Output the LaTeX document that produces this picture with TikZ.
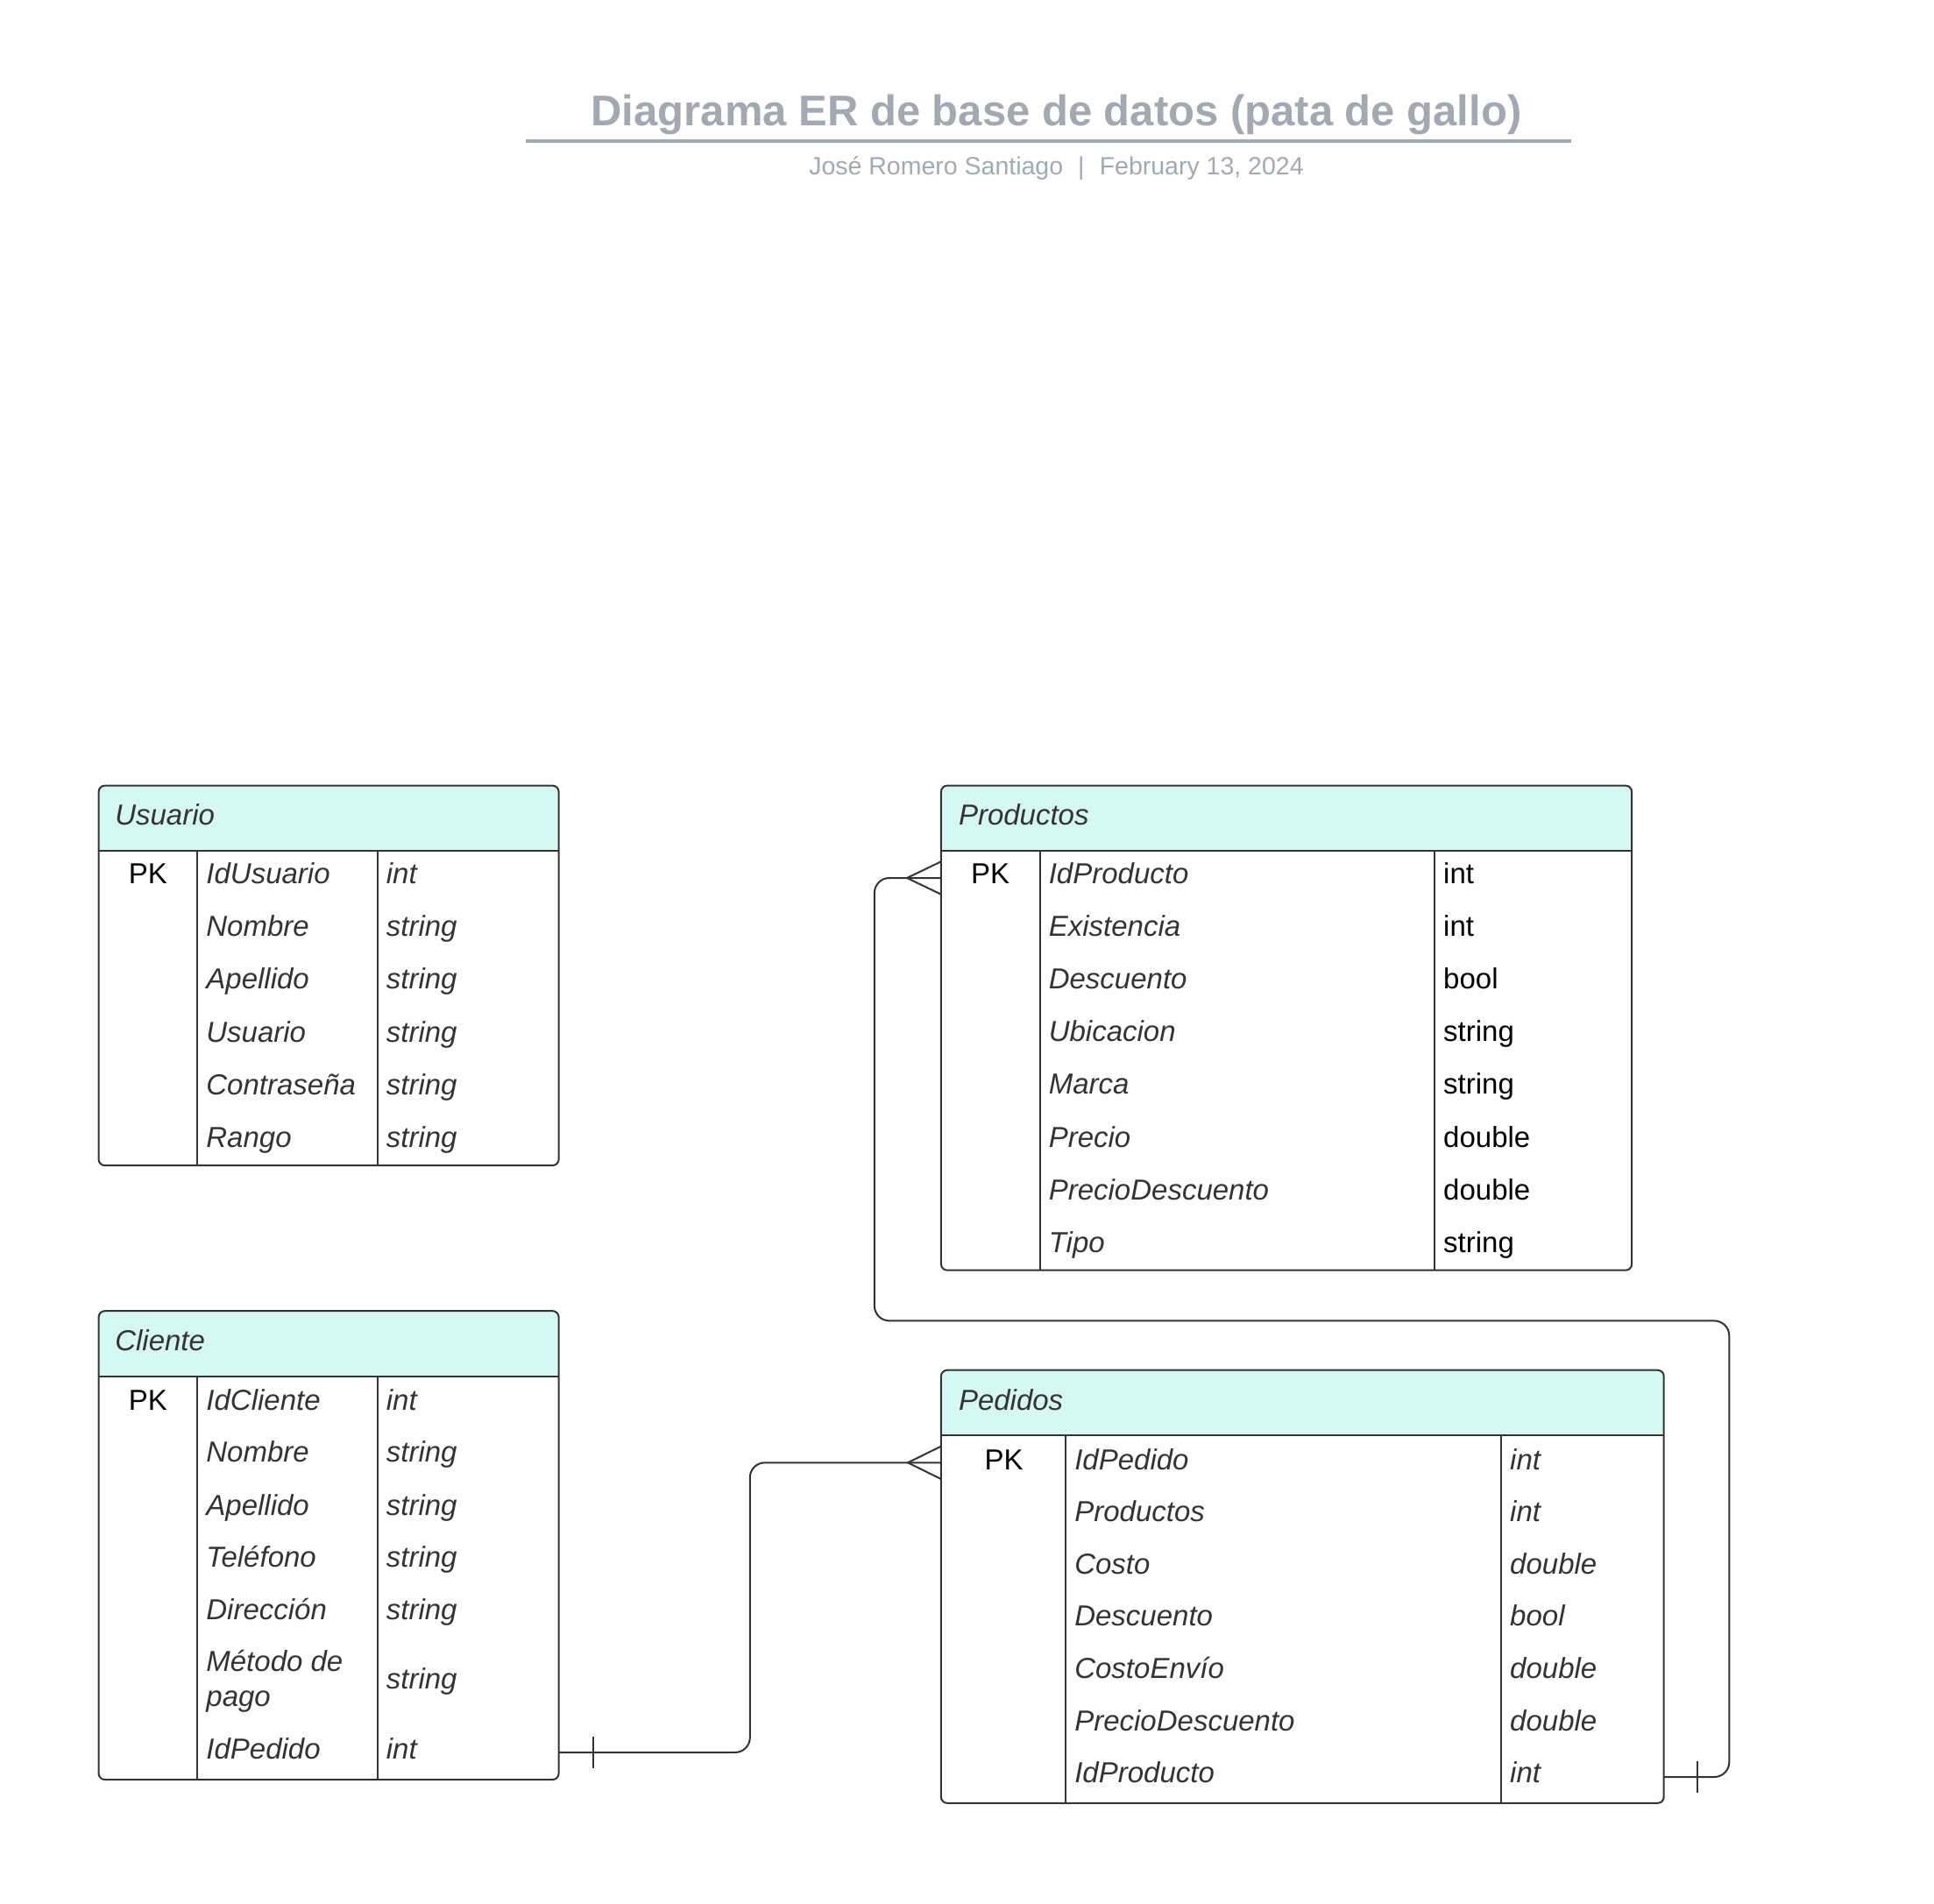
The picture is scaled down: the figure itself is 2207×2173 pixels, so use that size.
\documentclass[tikz,border=0pt]{standalone}
\usepackage{fontspec}
\setmainfont{Liberation Sans}
\definecolor{lineC}{HTML}{333333}
\definecolor{txtC}{HTML}{333333}
\definecolor{hdrC}{HTML}{D6F8F2}
\definecolor{titleC}{HTML}{A3A8B1}
\newcommand\bodyfont{\fontsize{16.5pt}{19pt}\selectfont}
\tikzset{
  tblbox/.style={draw=lineC, line width=1pt, rounded corners=3.5pt, inner sep=0pt, outer sep=0pt, anchor=north west},
  hdrfill/.style={fill=hdrC},
  divline/.style={draw=lineC, line width=1pt},
  hdrtxt/.style={font=\bodyfont\itshape, text=txtC, anchor=base west, inner sep=0pt},
  fld/.style={font=\bodyfont\itshape, text=txtC, anchor=base west, inner sep=0pt},
  typ/.style={font=\bodyfont, text=black, anchor=base west, inner sep=0pt},
  pktxt/.style={font=\bodyfont, text=black, anchor=base, inner sep=0pt},
  conn/.style={draw=lineC, line width=1pt, rounded corners=8.5pt},
  cardmark/.style={draw=lineC, line width=1pt},
}
\begin{document}
\begin{tikzpicture}[x=0.5pt,y=-0.5pt]
\useasboundingbox (0,0) rectangle (2207,2173);

% Title
\node[font=\fontsize{24.5pt}{28pt}\selectfont\bfseries, text=titleC, anchor=base, inner sep=0pt] (title) at (1205.5,143.6) {Diagrama ER de base de datos (pata de gallo)};
\draw[titleC, line width=2pt] (599.6,161.5) -- (1793,161.5);
\node[font=\fontsize{14.25pt}{17pt}\selectfont, text=titleC, anchor=base, inner sep=0pt] (subtitle) at (1205.5,199.5) {José Romero Santiago\hspace{0.6em}|\hspace{0.6em}February 13, 2024};

% ===== Usuario =====
\fill[hdrfill] (112.6,971.2) [rounded corners=3.5pt]-- (112.6,896.6) -- (637.6,896.6) [sharp corners]-- (637.6,971.2) -- cycle;
\node[tblbox, minimum width=262.5pt, minimum height=216.75pt] (usuario) at (112.6,896.6) {};
\draw[divline] (112.6,971.2) -- (637.6,971.2);
\draw[divline] (225.2,971.2) -- (225.2,1330.1);
\draw[divline] (430.7,971.2) -- (430.7,1330.1);
\node[hdrtxt] (usuario-h) at (130.9,941) {Usuario};
\node[pktxt] (u-pk) at (168.9,1008.5) {PK};
\foreach \n/\f/\t [count=\i from 0] in {1/IdUsuario/int,2/Nombre/string,3/Apellido/string,4/Usuario/string,5/Contraseña/string,6/Rango/string}{
  \node[fld] (u-f\n) at (235,1008.5+60.2*\i) {\f};
  \node[fld] (u-t\n) at (440.5,1008.5+60.2*\i) {\t};
}

% ===== Cliente =====
\fill[hdrfill] (112.6,1570.8) [rounded corners=3.5pt]-- (112.6,1496.2) -- (637.6,1496.2) [sharp corners]-- (637.6,1570.8) -- cycle;
\node[tblbox, minimum width=262.5pt, minimum height=267.4pt] (cliente) at (112.6,1496.2) {};
\draw[divline] (112.6,1570.8) -- (637.6,1570.8);
\draw[divline] (225.2,1570.8) -- (225.2,2031);
\draw[divline] (430.7,1570.8) -- (430.7,2031);
\node[hdrtxt] (cliente-h) at (130.9,1541.5) {Cliente};
\node[pktxt] (c-pk) at (168.9,1609.5) {PK};
\foreach \n/\f/\t/\y in {1/IdCliente/int/1609.5,2/Nombre/string/1668.7,3/Apellido/string/1729,4/Teléfono/string/1788.3,5/Dirección/string/1848.8,7/IdPedido/int/2007.8}{
  \node[fld] (c-f\n) at (235,\y) {\f};
  \node[fld] (c-t\n) at (440.5,\y) {\t};
}
\node[fld] (c-f6a) at (235,1907.9) {Método de};
\node[fld] (c-f6b) at (235,1947.3) {pago};
\node[fld] (c-t6) at (440.5,1927.6) {string};

% ===== Productos =====
\fill[hdrfill] (1073.9,971.2) [rounded corners=3.5pt]-- (1073.9,896.6) -- (1862.1,896.6) [sharp corners]-- (1862.1,971.2) -- cycle;
\node[tblbox, minimum width=394.1pt, minimum height=276.55pt] (productos) at (1073.9,896.6) {};
\draw[divline] (1073.9,971.2) -- (1862.1,971.2);
\draw[divline] (1186.5,971.2) -- (1186.5,1449.7);
\draw[divline] (1636.9,971.2) -- (1636.9,1449.7);
\node[hdrtxt] (productos-h) at (1093.6,941) {Productos};
\node[pktxt] (p-pk) at (1130.2,1008.5) {PK};
\foreach \n/\f/\t [count=\i from 0] in {1/IdProducto/int,2/Existencia/int,3/Descuento/bool,4/Ubicacion/string,5/Marca/string,6/Precio/double,7/PrecioDescuento/double,8/Tipo/string}{
  \node[fld] (p-f\n) at (1196.4,1008.5+60.1*\i) {\f};
  \node[typ] (p-t\n) at (1646.8,1008.5+60.1*\i) {\t};
}

% ===== Pedidos =====
\fill[hdrfill] (1073.9,1638.3) [rounded corners=3.5pt]-- (1073.9,1563.7) -- (1898.7,1563.7) [sharp corners]-- (1898.7,1638.3) -- cycle;
\node[tblbox, minimum width=412.4pt, minimum height=247.05pt] (pedidos) at (1073.9,1563.7) {};
\draw[divline] (1073.9,1638.3) -- (1898.7,1638.3);
\draw[divline] (1216.1,1638.3) -- (1216.1,2057.8);
\draw[divline] (1712.9,1638.3) -- (1712.9,2057.8);
\node[hdrtxt] (pedidos-h) at (1093.6,1609.5) {Pedidos};
\node[pktxt] (e-pk) at (1145.7,1677) {PK};
\foreach \n/\f/\t [count=\i from 0] in {1/IdPedido/int,2/Productos/int,3/Costo/double,4/Descuento/bool,5/CostoEnvío/double,6/PrecioDescuento/double,7/IdProducto/int}{
  \node[fld] (e-f\n) at (1225.9,1677+59.6*\i) {\f};
  \node[fld] (e-t\n) at (1722.8,1677+59.6*\i) {\t};
}

% ===== Connectors =====
\coordinate (cli-out) at (637.6,2000);
\coordinate (ped-in) at (1073.9,1669.3);
\coordinate (ped-out) at (1898.7,2028);
\coordinate (prod-in) at (1073.9,1002);

\draw[conn] (cli-out) -| (855.8,1669.3) -- (ped-in);
\draw[cardmark] (677,1982) -- (677,2018);
\draw[cardmark] ([yshift=-9.35pt]ped-in) -- (1036,1669.3) -- ([yshift=9.35pt]ped-in);

\draw[conn] (ped-out) -| (1973.3,1507.4) -| (997.9,1002) -- (prod-in);
\draw[cardmark] (1936.7,2010) -- (1936.7,2046);
\draw[cardmark] ([yshift=-9.35pt]prod-in) -- (1035,1002) -- ([yshift=9.35pt]prod-in);
\end{tikzpicture}
\end{document}
